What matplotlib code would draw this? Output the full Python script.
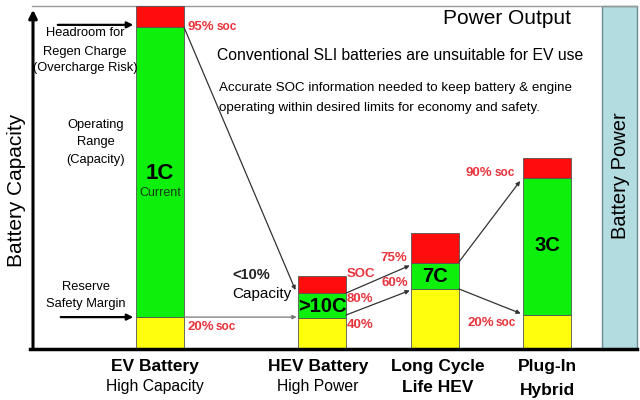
import numpy as np
import matplotlib
matplotlib.use("Agg")
import matplotlib.pyplot as plt

plt.rcParams["font.family"] = ["Liberation Sans", "DejaVu Sans"]

# ── Data (heights in % of the EV battery bar) ─────────────────────────────────
categories = ["EV Battery", "HEV Battery", "Long Cycle", "Plug-In"]
subtitles  = ["High Capacity", "High Power", "Life HEV", "Hybrid"]
sub_bold   = [False, False, True, True]
reserve    = [9.3, 9.0, 17.5, 9.9]     # yellow
operating  = [84.5, 7.3, 7.6, 39.9]    # green
headroom   = [6.1, 5.0, 8.7, 5.8]      # red
c_rates    = ["1C", ">10C", "7C", "3C"]

RED, GREEN, YELLOW = "#ff0c0c", "#0cf00c", "#ffff0c"
LABEL_RED = "#e8343c"
ARROW = "#333333"

# pixel-like layout helpers
K = 3.43          # px per unit
BASE = 349        # baseline pixel row
def py(p):
    return (BASE - p) / K

x_pos = [160, 322, 435, 547]
width = 48

fig = plt.figure(figsize=(6.4, 4.0), dpi=100)
ax = fig.add_axes([0, 0, 1, 1])
ax.set_xlim(0, 640)
ax.set_ylim(py(400), py(0))
ax.axis("off")

reserve = np.array(reserve)
operating = np.array(operating)
headroom = np.array(headroom)
lo = reserve
mid = reserve + operating

bkw = dict(width=width, edgecolor="#555555", linewidth=0.6, zorder=3)
ax.bar(x_pos, reserve, color=YELLOW, **bkw)
ax.bar(x_pos, operating, bottom=lo, color=GREEN, **bkw)
ax.bar(x_pos, headroom, bottom=mid, color=RED, **bkw)

# right "Battery Power" panel and frame
ax.add_patch(plt.Rectangle((602, 0), 35, py(6), facecolor="#b3dce1",
                           edgecolor="#6a8c90", linewidth=1.0, zorder=2))
ax.plot([32, 637], [py(6), py(6)], color="#999999", lw=1.0, zorder=2)
ax.plot([30, 637], [0, 0], color="black", lw=2.5, zorder=4)
ax.annotate("", xy=(33, py(7)), xytext=(33, -0.3),
            arrowprops=dict(arrowstyle="-|>", color="black", lw=2.2,
                            mutation_scale=12), zorder=4)

# ── Texts ────────────────────────────────────────────────────────────────────
ax.text(17, py(190), "Battery Capacity", rotation=90, ha="center",
        va="center", fontsize=15)
ax.text(620, py(176), "Battery Power", rotation=90, ha="center",
        va="center", fontsize=14.5, zorder=5)
ax.text(507, py(18), "Power Output", ha="center", va="center", fontsize=15)
ax.text(217, py(55), "Conventional SLI batteries are unsuitable for EV use",
        ha="left", va="center", fontsize=11.3)
ax.text(219, py(88), "Accurate SOC information needed to keep battery & engine",
        ha="left", va="center", fontsize=9.6)
ax.text(219, py(108), "operating within desired limits for economy and safety.",
        ha="left", va="center", fontsize=9.6)

for t, yy in [("Headroom for", 33), ("Regen Charge", 52), ("(Overcharge Risk)", 68)]:
    ax.text(85, py(yy), t, ha="center", va="center", fontsize=9.3)
for t, yy in [("Operating", 125), ("Range", 142), ("(Capacity)", 160)]:
    ax.text(96, py(yy), t, ha="center", va="center", fontsize=9.3)
for t, yy in [("Reserve", 287), ("Safety Margin", 304)]:
    ax.text(86, py(yy), t, ha="center", va="center", fontsize=9.3)

ak = dict(arrowstyle="-|>", color="black", lw=1.6, mutation_scale=9)
ax.annotate("", xy=(x_pos[0] - width / 2, mid[0] + 0.7), xytext=(55, mid[0] + 0.7),
            arrowprops=ak)
ax.annotate("", xy=(x_pos[0] - width / 2, lo[0]), xytext=(58, lo[0]),
            arrowprops=ak)

# C-rate labels inside the green segments
c_y = [py(173), py(306), py(277), py(245)]
c_fs = [16, 14.5, 14.5, 14.5]
for x, y, t, fs in zip(x_pos, c_y, c_rates, c_fs):
    ax.text(x, y, t, ha="center", va="center", fontsize=fs,
            fontweight="bold", zorder=5)
ax.text(x_pos[0], py(193), "Current", ha="center", va="center",
        fontsize=9, color="#1a3a1a", zorder=5)

# category labels
cat_x = [155, 318, 438, 547]
sub_y = [387, 387, 387, 390]
for x, c, s, b, sy in zip(cat_x, categories, subtitles, sub_bold, sub_y):
    ax.text(x, py(367), c, ha="center", va="center", fontsize=12.5,
            fontweight="bold")
    ax.text(x, py(sy), s, ha="center", va="center",
            fontsize=12.5 if b else 11.3, fontweight="bold" if b else "normal")

# SOC labels (red)
def soc(x, y, pct, unit="soc", gap=29):
    ax.text(x, y, pct, ha="left", va="center", fontsize=9.5,
            fontweight="bold", color=LABEL_RED, zorder=5)
    if unit:
        ax.text(x + gap, y, unit, ha="left", va="center", fontsize=8.5,
                fontweight="bold", color=LABEL_RED, zorder=5)

right = [x + width / 2 for x in x_pos]
left = [x - width / 2 for x in x_pos]
soc(right[0] + 4, py(27), "95%")
soc(right[0] + 3, py(327), "20%")
ax.text(right[1] + 1, py(274), "SOC", ha="left", va="center", fontsize=9.5,
        fontweight="bold", color=LABEL_RED)
soc(right[1] + 1, py(299), "80%", unit=None)
soc(right[1] + 1, py(325), "40%", unit=None)
soc(380, py(258), "75%", unit=None)
soc(381, py(283), "60%", unit=None)
soc(466, py(173), "90%")
soc(467, py(323), "20%")

ax.text(232, py(275), "<10%", ha="left", va="center", fontsize=10.5,
        fontweight="bold", color="#222222")
ax.text(232, py(294), "Capacity", ha="left", va="center", fontsize=11)

# connecting arrows between bars
tk = dict(arrowstyle="-|>", color=ARROW, lw=0.9, mutation_scale=6,
          shrinkA=0, shrinkB=1)
ax.annotate("", xy=(left[1] - 2, mid[1] + 0.5), xytext=(right[0], mid[0]),
            arrowprops=tk)
ax.annotate("", xy=(left[1], lo[1] + 0.3), xytext=(right[0], lo[0]),
            arrowprops=dict(tk, color="#777777"))
ax.annotate("", xy=(left[2], mid[2] - 0.6), xytext=(right[1], mid[1]),
            arrowprops=tk)
ax.annotate("", xy=(left[2], lo[2] - 0.3), xytext=(right[1], lo[1] + 0.9),
            arrowprops=tk)
ax.annotate("", xy=(left[3] - 2, mid[3] - 0.5), xytext=(right[2], mid[2] + 0.3),
            arrowprops=tk)
ax.annotate("", xy=(left[3] - 1, lo[3] + 0.3), xytext=(right[2], lo[2]),
            arrowprops=tk)

fig.savefig("out.png", dpi=100)
